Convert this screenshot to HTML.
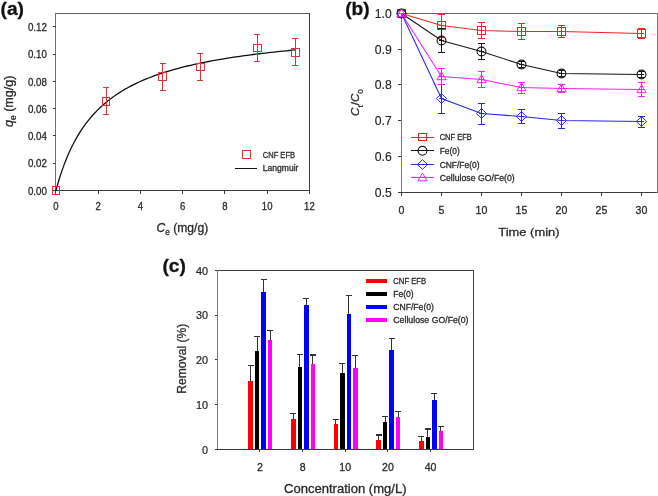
<!DOCTYPE html>
<html><head><meta charset="utf-8"><style>
html,body{margin:0;padding:0;background:#fff;}
svg{display:block;font-family:"Liberation Sans", sans-serif;will-change:transform;}
line,rect{shape-rendering:crispEdges;}
.ce{shape-rendering:crispEdges;}
</style></head><body>
<svg width="658" height="496" viewBox="0 0 658 496">
<rect width="658" height="496" fill="#fff"/>
<text x="0.50" y="15.20" font-size="19.2" stroke="#111" stroke-width="0.3" font-weight="bold" fill="#111" >(a)</text>
<line x1="55.90" y1="13.20" x2="309.40" y2="13.20" stroke="#5e5e5e" stroke-width="1.3" />
<line x1="309.40" y1="13.20" x2="309.40" y2="190.50" stroke="#3c3c3c" stroke-width="1.2" />
<line x1="55.90" y1="13.20" x2="55.90" y2="191.00" stroke="#707070" stroke-width="1.0" />
<line x1="55.90" y1="190.50" x2="309.40" y2="190.50" stroke="#3c3c3c" stroke-width="1.2" />
<line x1="52.90" y1="190.50" x2="55.90" y2="190.50" stroke="#3c3c3c" stroke-width="1.0" />
<text x="46.90" y="194.60" font-size="10.5" stroke="#2b2b2b" stroke-width="0.3" text-anchor="end" textLength="19.00" lengthAdjust="spacingAndGlyphs" fill="#2b2b2b" >0.00</text>
<line x1="52.90" y1="163.23" x2="55.90" y2="163.23" stroke="#3c3c3c" stroke-width="1.0" />
<text x="46.90" y="167.33" font-size="10.5" stroke="#2b2b2b" stroke-width="0.3" text-anchor="end" textLength="19.00" lengthAdjust="spacingAndGlyphs" fill="#2b2b2b" >0.02</text>
<line x1="52.90" y1="135.97" x2="55.90" y2="135.97" stroke="#3c3c3c" stroke-width="1.0" />
<text x="46.90" y="140.07" font-size="10.5" stroke="#2b2b2b" stroke-width="0.3" text-anchor="end" textLength="19.00" lengthAdjust="spacingAndGlyphs" fill="#2b2b2b" >0.04</text>
<line x1="52.90" y1="108.70" x2="55.90" y2="108.70" stroke="#3c3c3c" stroke-width="1.0" />
<text x="46.90" y="112.80" font-size="10.5" stroke="#2b2b2b" stroke-width="0.3" text-anchor="end" textLength="19.00" lengthAdjust="spacingAndGlyphs" fill="#2b2b2b" >0.06</text>
<line x1="52.90" y1="81.43" x2="55.90" y2="81.43" stroke="#3c3c3c" stroke-width="1.0" />
<text x="46.90" y="85.53" font-size="10.5" stroke="#2b2b2b" stroke-width="0.3" text-anchor="end" textLength="19.00" lengthAdjust="spacingAndGlyphs" fill="#2b2b2b" >0.08</text>
<line x1="52.90" y1="54.17" x2="55.90" y2="54.17" stroke="#3c3c3c" stroke-width="1.0" />
<text x="46.90" y="58.27" font-size="10.5" stroke="#2b2b2b" stroke-width="0.3" text-anchor="end" textLength="19.00" lengthAdjust="spacingAndGlyphs" fill="#2b2b2b" >0.10</text>
<line x1="52.90" y1="26.90" x2="55.90" y2="26.90" stroke="#3c3c3c" stroke-width="1.0" />
<text x="46.90" y="31.00" font-size="10.5" stroke="#2b2b2b" stroke-width="0.3" text-anchor="end" textLength="19.00" lengthAdjust="spacingAndGlyphs" fill="#2b2b2b" >0.12</text>
<line x1="55.90" y1="190.50" x2="55.90" y2="193.50" stroke="#3c3c3c" stroke-width="1.0" />
<text x="55.90" y="209.60" font-size="10.3" stroke="#2b2b2b" stroke-width="0.3" text-anchor="middle" textLength="5.30" lengthAdjust="spacingAndGlyphs" fill="#2b2b2b" >0</text>
<line x1="98.15" y1="190.50" x2="98.15" y2="193.50" stroke="#3c3c3c" stroke-width="1.0" />
<text x="98.15" y="209.60" font-size="10.3" stroke="#2b2b2b" stroke-width="0.3" text-anchor="middle" textLength="5.30" lengthAdjust="spacingAndGlyphs" fill="#2b2b2b" >2</text>
<line x1="140.40" y1="190.50" x2="140.40" y2="193.50" stroke="#3c3c3c" stroke-width="1.0" />
<text x="140.40" y="209.60" font-size="10.3" stroke="#2b2b2b" stroke-width="0.3" text-anchor="middle" textLength="5.30" lengthAdjust="spacingAndGlyphs" fill="#2b2b2b" >4</text>
<line x1="182.65" y1="190.50" x2="182.65" y2="193.50" stroke="#3c3c3c" stroke-width="1.0" />
<text x="182.65" y="209.60" font-size="10.3" stroke="#2b2b2b" stroke-width="0.3" text-anchor="middle" textLength="5.30" lengthAdjust="spacingAndGlyphs" fill="#2b2b2b" >6</text>
<line x1="224.90" y1="190.50" x2="224.90" y2="193.50" stroke="#3c3c3c" stroke-width="1.0" />
<text x="224.90" y="209.60" font-size="10.3" stroke="#2b2b2b" stroke-width="0.3" text-anchor="middle" textLength="5.30" lengthAdjust="spacingAndGlyphs" fill="#2b2b2b" >8</text>
<line x1="267.15" y1="190.50" x2="267.15" y2="193.50" stroke="#3c3c3c" stroke-width="1.0" />
<text x="267.15" y="209.60" font-size="10.3" stroke="#2b2b2b" stroke-width="0.3" text-anchor="middle" textLength="10.60" lengthAdjust="spacingAndGlyphs" fill="#2b2b2b" >10</text>
<line x1="309.40" y1="190.50" x2="309.40" y2="193.50" stroke="#3c3c3c" stroke-width="1.0" />
<text x="309.40" y="209.60" font-size="10.3" stroke="#2b2b2b" stroke-width="0.3" text-anchor="middle" textLength="10.60" lengthAdjust="spacingAndGlyphs" fill="#2b2b2b" >12</text>
<path d="M55.90,190.50 L58.89,180.05 L61.88,170.84 L64.88,162.65 L67.87,155.32 L70.86,148.73 L73.85,142.77 L76.84,137.34 L79.83,132.40 L82.83,127.86 L85.82,123.69 L88.81,119.83 L91.80,116.27 L94.79,112.96 L97.79,109.87 L100.78,107.00 L103.77,104.30 L106.76,101.78 L109.75,99.41 L112.74,97.18 L115.74,95.08 L118.73,93.09 L121.72,91.21 L124.71,89.43 L127.70,87.74 L130.70,86.14 L133.69,84.62 L136.68,83.16 L139.67,81.78 L142.66,80.45 L145.65,79.19 L148.65,77.98 L151.64,76.83 L154.63,75.72 L157.62,74.65 L160.61,73.63 L163.61,72.65 L166.60,71.71 L169.59,70.80 L172.58,69.93 L175.57,69.08 L178.56,68.27 L181.56,67.49 L184.55,66.73 L187.54,66.00 L190.53,65.29 L193.52,64.61 L196.52,63.95 L199.51,63.31 L202.50,62.69 L205.49,62.09 L208.48,61.51 L211.48,60.94 L214.47,60.39 L217.46,59.86 L220.45,59.34 L223.44,58.84 L226.43,58.35 L229.43,57.87 L232.42,57.41 L235.41,56.96 L238.40,56.52 L241.39,56.09 L244.39,55.68 L247.38,55.27 L250.37,54.87 L253.36,54.49 L256.35,54.11 L259.34,53.75 L262.34,53.39 L265.33,53.04 L268.32,52.69 L271.31,52.36 L274.30,52.03 L277.30,51.71 L280.29,51.40 L283.28,51.10 L286.27,50.80 L289.26,50.51 L292.25,50.22 L295.25,49.94" stroke="#111" stroke-width="1.3" fill="none" />
<rect x="52.00" y="186.70" width="7.60" height="7.60" fill="none" stroke="#d9343a" stroke-width="1.0"/>
<line x1="106.00" y1="87.95" x2="106.00" y2="114.85" stroke="#d9343a" stroke-width="1.0" />
<line x1="103.00" y1="87.95" x2="109.00" y2="87.95" stroke="#d9343a" stroke-width="1.0" />
<line x1="103.00" y1="114.85" x2="109.00" y2="114.85" stroke="#d9343a" stroke-width="1.0" />
<rect x="102.20" y="97.60" width="7.60" height="7.60" fill="none" stroke="#d9343a" stroke-width="1.0"/>
<line x1="162.50" y1="63.10" x2="162.50" y2="90.10" stroke="#d9343a" stroke-width="1.0" />
<line x1="159.50" y1="63.10" x2="165.50" y2="63.10" stroke="#d9343a" stroke-width="1.0" />
<line x1="159.50" y1="90.10" x2="165.50" y2="90.10" stroke="#d9343a" stroke-width="1.0" />
<rect x="158.70" y="72.80" width="7.60" height="7.60" fill="none" stroke="#d9343a" stroke-width="1.0"/>
<line x1="200.40" y1="53.20" x2="200.40" y2="80.40" stroke="#d9343a" stroke-width="1.0" />
<line x1="197.40" y1="53.20" x2="203.40" y2="53.20" stroke="#d9343a" stroke-width="1.0" />
<line x1="197.40" y1="80.40" x2="203.40" y2="80.40" stroke="#d9343a" stroke-width="1.0" />
<rect x="196.60" y="63.00" width="7.60" height="7.60" fill="none" stroke="#d9343a" stroke-width="1.0"/>
<line x1="257.30" y1="34.25" x2="257.30" y2="61.55" stroke="#d9343a" stroke-width="1.0" />
<line x1="254.30" y1="34.25" x2="260.30" y2="34.25" stroke="#d9343a" stroke-width="1.0" />
<line x1="254.30" y1="61.55" x2="260.30" y2="61.55" stroke="#d9343a" stroke-width="1.0" />
<rect x="253.50" y="44.10" width="7.60" height="7.60" fill="none" stroke="#d9343a" stroke-width="1.0"/>
<line x1="295.30" y1="38.70" x2="295.30" y2="65.70" stroke="#d9343a" stroke-width="1.0" />
<line x1="292.30" y1="38.70" x2="298.30" y2="38.70" stroke="#d9343a" stroke-width="1.0" />
<line x1="292.30" y1="65.70" x2="298.30" y2="65.70" stroke="#d9343a" stroke-width="1.0" />
<rect x="291.50" y="48.40" width="7.60" height="7.60" fill="none" stroke="#d9343a" stroke-width="1.0"/>
<rect x="242.20" y="150.90" width="7.80" height="7.80" fill="none" stroke="#d9343a" stroke-width="1.0"/>
<text x="262.80" y="157.60" font-size="8.6" stroke="#2b2b2b" stroke-width="0.3" textLength="32.20" lengthAdjust="spacingAndGlyphs" fill="#2b2b2b" >CNF EFB</text>
<line x1="234.60" y1="168.40" x2="256.80" y2="168.40" stroke="#111" stroke-width="1.2" />
<text x="262.80" y="170.60" font-size="8.6" stroke="#2b2b2b" stroke-width="0.3" textLength="35.60" lengthAdjust="spacingAndGlyphs" fill="#2b2b2b" >Langmuir</text>
<text x="156.40" y="232.40" font-size="12.4" stroke="#2b2b2b" stroke-width="0.3" textLength="51.90" lengthAdjust="spacingAndGlyphs" fill="#2b2b2b" ><tspan font-style="italic">C</tspan><tspan font-size="8.5" dy="2.8">e</tspan><tspan dy="-2.8"> (mg/g)</tspan></text>
<text x="13.40" y="127.00" font-size="12.8" stroke="#2b2b2b" stroke-width="0.3" textLength="51.50" lengthAdjust="spacingAndGlyphs" fill="#2b2b2b" transform="rotate(-90 13.40 127.00)" ><tspan font-style="italic">q</tspan><tspan font-size="8.5" dy="3">e</tspan><tspan dy="-3"> (mg/g)</tspan></text>
<text x="345.20" y="15.40" font-size="19.2" stroke="#111" stroke-width="0.3" font-weight="bold" fill="#111" >(b)</text>
<line x1="401.30" y1="13.30" x2="657.00" y2="13.30" stroke="#666" stroke-width="1.0" />
<line x1="657.00" y1="13.30" x2="657.00" y2="192.50" stroke="#777" stroke-width="1.0" />
<line x1="401.30" y1="13.30" x2="401.30" y2="192.50" stroke="#7a7a7a" stroke-width="1.2" />
<line x1="401.30" y1="192.50" x2="657.00" y2="192.50" stroke="#3c3c3c" stroke-width="1.2" />
<line x1="398.30" y1="192.50" x2="401.30" y2="192.50" stroke="#3c3c3c" stroke-width="1.0" />
<text x="391.80" y="196.90" font-size="12.2" stroke="#222" stroke-width="0.12" text-anchor="end" fill="#222" >0.5</text>
<line x1="398.30" y1="156.66" x2="401.30" y2="156.66" stroke="#3c3c3c" stroke-width="1.0" />
<text x="391.80" y="161.06" font-size="12.2" stroke="#222" stroke-width="0.12" text-anchor="end" fill="#222" >0.6</text>
<line x1="398.30" y1="120.82" x2="401.30" y2="120.82" stroke="#3c3c3c" stroke-width="1.0" />
<text x="391.80" y="125.22" font-size="12.2" stroke="#222" stroke-width="0.12" text-anchor="end" fill="#222" >0.7</text>
<line x1="398.30" y1="84.98" x2="401.30" y2="84.98" stroke="#3c3c3c" stroke-width="1.0" />
<text x="391.80" y="89.38" font-size="12.2" stroke="#222" stroke-width="0.12" text-anchor="end" fill="#222" >0.8</text>
<line x1="398.30" y1="49.14" x2="401.30" y2="49.14" stroke="#3c3c3c" stroke-width="1.0" />
<text x="391.80" y="53.54" font-size="12.2" stroke="#222" stroke-width="0.12" text-anchor="end" fill="#222" >0.9</text>
<line x1="398.30" y1="13.30" x2="401.30" y2="13.30" stroke="#3c3c3c" stroke-width="1.0" />
<text x="391.80" y="17.70" font-size="12.2" stroke="#222" stroke-width="0.12" text-anchor="end" fill="#222" >1.0</text>
<line x1="401.50" y1="192.50" x2="401.50" y2="195.50" stroke="#3c3c3c" stroke-width="1.0" />
<text x="401.50" y="213.90" font-size="11.0" stroke="#2b2b2b" stroke-width="0.3" text-anchor="middle" textLength="5.90" lengthAdjust="spacingAndGlyphs" fill="#2b2b2b" >0</text>
<line x1="441.50" y1="192.50" x2="441.50" y2="195.50" stroke="#3c3c3c" stroke-width="1.0" />
<text x="441.50" y="213.90" font-size="11.0" stroke="#2b2b2b" stroke-width="0.3" text-anchor="middle" textLength="5.90" lengthAdjust="spacingAndGlyphs" fill="#2b2b2b" >5</text>
<line x1="481.50" y1="192.50" x2="481.50" y2="195.50" stroke="#3c3c3c" stroke-width="1.0" />
<text x="481.50" y="213.90" font-size="11.0" stroke="#2b2b2b" stroke-width="0.3" text-anchor="middle" textLength="11.80" lengthAdjust="spacingAndGlyphs" fill="#2b2b2b" >10</text>
<line x1="521.50" y1="192.50" x2="521.50" y2="195.50" stroke="#3c3c3c" stroke-width="1.0" />
<text x="521.50" y="213.90" font-size="11.0" stroke="#2b2b2b" stroke-width="0.3" text-anchor="middle" textLength="11.80" lengthAdjust="spacingAndGlyphs" fill="#2b2b2b" >15</text>
<line x1="561.50" y1="192.50" x2="561.50" y2="195.50" stroke="#3c3c3c" stroke-width="1.0" />
<text x="561.50" y="213.90" font-size="11.0" stroke="#2b2b2b" stroke-width="0.3" text-anchor="middle" textLength="11.80" lengthAdjust="spacingAndGlyphs" fill="#2b2b2b" >20</text>
<line x1="601.50" y1="192.50" x2="601.50" y2="195.50" stroke="#3c3c3c" stroke-width="1.0" />
<text x="601.50" y="213.90" font-size="11.0" stroke="#2b2b2b" stroke-width="0.3" text-anchor="middle" textLength="11.80" lengthAdjust="spacingAndGlyphs" fill="#2b2b2b" >25</text>
<line x1="641.50" y1="192.50" x2="641.50" y2="195.50" stroke="#3c3c3c" stroke-width="1.0" />
<text x="641.50" y="213.90" font-size="11.0" stroke="#2b2b2b" stroke-width="0.3" text-anchor="middle" textLength="11.80" lengthAdjust="spacingAndGlyphs" fill="#2b2b2b" >30</text>
<text x="498.30" y="236.10" font-size="11.8" stroke="#2b2b2b" stroke-width="0.3" textLength="61.20" lengthAdjust="spacingAndGlyphs" fill="#2b2b2b" >Time (min)</text>
<text x="359.20" y="116.00" font-size="11.6" stroke="#2b2b2b" stroke-width="0.3" textLength="26.80" lengthAdjust="spacingAndGlyphs" fill="#2b2b2b" transform="rotate(-90 359.20 116.00)" ><tspan font-style="italic">C</tspan><tspan font-size="8" dy="3.4">t</tspan><tspan dy="-3.4">/</tspan><tspan font-style="italic">C</tspan><tspan font-size="8" dy="3.4">0</tspan></text>
<path d="M401.50,13.50 L441.50,25.50 L481.50,30.50 L521.50,31.50 L561.50,31.50 L641.50,33.50" stroke="#ee2424" stroke-width="1.05" fill="none" />
<path d="M401.50,13.50 L441.50,40.50 L481.50,51.50 L521.50,64.50 L561.50,73.50 L641.50,74.50" stroke="#161616" stroke-width="1.05" fill="none" />
<path d="M401.50,13.50 L441.50,98.50 L481.50,113.50 L521.50,116.50 L561.50,120.50 L641.50,121.50" stroke="#2a2ae0" stroke-width="1.05" fill="none" />
<path d="M401.50,13.50 L441.50,76.50 L481.50,79.50 L521.50,87.50 L561.50,88.50 L641.50,89.50" stroke="#f020f0" stroke-width="1.05" fill="none" />
<line x1="399.00" y1="13.50" x2="404.00" y2="13.50" stroke="#ee2424" stroke-width="1.0" />
<rect x="397.70" y="9.70" width="7.60" height="7.60" fill="none" stroke="#ee2424" stroke-width="1.0"/>
<line x1="441.50" y1="14.00" x2="441.50" y2="37.00" stroke="#ee2424" stroke-width="1.0" />
<line x1="438.20" y1="14.00" x2="444.80" y2="14.00" stroke="#ee2424" stroke-width="1.0" />
<line x1="438.20" y1="37.00" x2="444.80" y2="37.00" stroke="#ee2424" stroke-width="1.0" />
<line x1="439.00" y1="25.50" x2="444.00" y2="25.50" stroke="#ee2424" stroke-width="1.0" />
<rect x="437.70" y="21.70" width="7.60" height="7.60" fill="none" stroke="#ee2424" stroke-width="1.0"/>
<line x1="481.50" y1="22.30" x2="481.50" y2="38.70" stroke="#ee2424" stroke-width="1.0" />
<line x1="478.20" y1="22.30" x2="484.80" y2="22.30" stroke="#ee2424" stroke-width="1.0" />
<line x1="478.20" y1="38.70" x2="484.80" y2="38.70" stroke="#ee2424" stroke-width="1.0" />
<line x1="479.00" y1="30.50" x2="484.00" y2="30.50" stroke="#ee2424" stroke-width="1.0" />
<rect x="477.70" y="26.70" width="7.60" height="7.60" fill="none" stroke="#ee2424" stroke-width="1.0"/>
<line x1="521.50" y1="23.50" x2="521.50" y2="39.50" stroke="#ee2424" stroke-width="1.0" />
<line x1="518.20" y1="23.50" x2="524.80" y2="23.50" stroke="#ee2424" stroke-width="1.0" />
<line x1="518.20" y1="39.50" x2="524.80" y2="39.50" stroke="#ee2424" stroke-width="1.0" />
<line x1="519.00" y1="31.50" x2="524.00" y2="31.50" stroke="#ee2424" stroke-width="1.0" />
<rect x="517.70" y="27.70" width="7.60" height="7.60" fill="none" stroke="#ee2424" stroke-width="1.0"/>
<line x1="561.50" y1="25.50" x2="561.50" y2="37.50" stroke="#ee2424" stroke-width="1.0" />
<line x1="558.20" y1="25.50" x2="564.80" y2="25.50" stroke="#ee2424" stroke-width="1.0" />
<line x1="558.20" y1="37.50" x2="564.80" y2="37.50" stroke="#ee2424" stroke-width="1.0" />
<line x1="559.00" y1="31.50" x2="564.00" y2="31.50" stroke="#ee2424" stroke-width="1.0" />
<rect x="557.70" y="27.70" width="7.60" height="7.60" fill="none" stroke="#ee2424" stroke-width="1.0"/>
<line x1="641.50" y1="28.50" x2="641.50" y2="38.50" stroke="#ee2424" stroke-width="1.0" />
<line x1="638.20" y1="28.50" x2="644.80" y2="28.50" stroke="#ee2424" stroke-width="1.0" />
<line x1="638.20" y1="38.50" x2="644.80" y2="38.50" stroke="#ee2424" stroke-width="1.0" />
<line x1="639.00" y1="33.50" x2="644.00" y2="33.50" stroke="#ee2424" stroke-width="1.0" />
<rect x="637.70" y="29.70" width="7.60" height="7.60" fill="none" stroke="#ee2424" stroke-width="1.0"/>
<line x1="399.00" y1="13.50" x2="404.00" y2="13.50" stroke="#161616" stroke-width="1.0" />
<circle cx="401.50" cy="13.50" r="4.4" fill="none" stroke="#161616" stroke-width="1.1"/>
<line x1="441.50" y1="28.50" x2="441.50" y2="52.50" stroke="#161616" stroke-width="1.0" />
<line x1="438.20" y1="28.50" x2="444.80" y2="28.50" stroke="#161616" stroke-width="1.0" />
<line x1="438.20" y1="52.50" x2="444.80" y2="52.50" stroke="#161616" stroke-width="1.0" />
<line x1="439.00" y1="40.50" x2="444.00" y2="40.50" stroke="#161616" stroke-width="1.0" />
<circle cx="441.50" cy="40.50" r="4.4" fill="none" stroke="#161616" stroke-width="1.1"/>
<line x1="481.50" y1="43.80" x2="481.50" y2="59.20" stroke="#161616" stroke-width="1.0" />
<line x1="478.20" y1="43.80" x2="484.80" y2="43.80" stroke="#161616" stroke-width="1.0" />
<line x1="478.20" y1="59.20" x2="484.80" y2="59.20" stroke="#161616" stroke-width="1.0" />
<line x1="479.00" y1="51.50" x2="484.00" y2="51.50" stroke="#161616" stroke-width="1.0" />
<circle cx="481.50" cy="51.50" r="4.4" fill="none" stroke="#161616" stroke-width="1.1"/>
<line x1="521.50" y1="61.50" x2="521.50" y2="67.50" stroke="#161616" stroke-width="1.0" />
<line x1="518.20" y1="61.50" x2="524.80" y2="61.50" stroke="#161616" stroke-width="1.0" />
<line x1="518.20" y1="67.50" x2="524.80" y2="67.50" stroke="#161616" stroke-width="1.0" />
<line x1="519.00" y1="64.50" x2="524.00" y2="64.50" stroke="#161616" stroke-width="1.0" />
<circle cx="521.50" cy="64.50" r="4.4" fill="none" stroke="#161616" stroke-width="1.1"/>
<line x1="561.50" y1="70.50" x2="561.50" y2="76.50" stroke="#161616" stroke-width="1.0" />
<line x1="558.20" y1="70.50" x2="564.80" y2="70.50" stroke="#161616" stroke-width="1.0" />
<line x1="558.20" y1="76.50" x2="564.80" y2="76.50" stroke="#161616" stroke-width="1.0" />
<line x1="559.00" y1="73.50" x2="564.00" y2="73.50" stroke="#161616" stroke-width="1.0" />
<circle cx="561.50" cy="73.50" r="4.4" fill="none" stroke="#161616" stroke-width="1.1"/>
<line x1="641.50" y1="71.50" x2="641.50" y2="77.50" stroke="#161616" stroke-width="1.0" />
<line x1="638.20" y1="71.50" x2="644.80" y2="71.50" stroke="#161616" stroke-width="1.0" />
<line x1="638.20" y1="77.50" x2="644.80" y2="77.50" stroke="#161616" stroke-width="1.0" />
<line x1="639.00" y1="74.50" x2="644.00" y2="74.50" stroke="#161616" stroke-width="1.0" />
<circle cx="641.50" cy="74.50" r="4.4" fill="none" stroke="#161616" stroke-width="1.1"/>
<line x1="399.00" y1="13.50" x2="404.00" y2="13.50" stroke="#2a2ae0" stroke-width="1.0" />
<path d="M396.30,13.50 L401.50,8.70 L406.70,13.50 L401.50,18.30 Z" stroke="#2a2ae0" stroke-width="1.0" fill="none" />
<line x1="441.50" y1="84.00" x2="441.50" y2="113.00" stroke="#2a2ae0" stroke-width="1.0" />
<line x1="438.20" y1="84.00" x2="444.80" y2="84.00" stroke="#2a2ae0" stroke-width="1.0" />
<line x1="438.20" y1="113.00" x2="444.80" y2="113.00" stroke="#2a2ae0" stroke-width="1.0" />
<line x1="439.00" y1="98.50" x2="444.00" y2="98.50" stroke="#2a2ae0" stroke-width="1.0" />
<path d="M436.30,98.50 L441.50,93.70 L446.70,98.50 L441.50,103.30 Z" stroke="#2a2ae0" stroke-width="1.0" fill="none" />
<line x1="481.50" y1="103.00" x2="481.50" y2="124.00" stroke="#2a2ae0" stroke-width="1.0" />
<line x1="478.20" y1="103.00" x2="484.80" y2="103.00" stroke="#2a2ae0" stroke-width="1.0" />
<line x1="478.20" y1="124.00" x2="484.80" y2="124.00" stroke="#2a2ae0" stroke-width="1.0" />
<line x1="479.00" y1="113.50" x2="484.00" y2="113.50" stroke="#2a2ae0" stroke-width="1.0" />
<path d="M476.30,113.50 L481.50,108.70 L486.70,113.50 L481.50,118.30 Z" stroke="#2a2ae0" stroke-width="1.0" fill="none" />
<line x1="521.50" y1="109.50" x2="521.50" y2="123.50" stroke="#2a2ae0" stroke-width="1.0" />
<line x1="518.20" y1="109.50" x2="524.80" y2="109.50" stroke="#2a2ae0" stroke-width="1.0" />
<line x1="518.20" y1="123.50" x2="524.80" y2="123.50" stroke="#2a2ae0" stroke-width="1.0" />
<line x1="519.00" y1="116.50" x2="524.00" y2="116.50" stroke="#2a2ae0" stroke-width="1.0" />
<path d="M516.30,116.50 L521.50,111.70 L526.70,116.50 L521.50,121.30 Z" stroke="#2a2ae0" stroke-width="1.0" fill="none" />
<line x1="561.50" y1="113.00" x2="561.50" y2="128.00" stroke="#2a2ae0" stroke-width="1.0" />
<line x1="558.20" y1="113.00" x2="564.80" y2="113.00" stroke="#2a2ae0" stroke-width="1.0" />
<line x1="558.20" y1="128.00" x2="564.80" y2="128.00" stroke="#2a2ae0" stroke-width="1.0" />
<line x1="559.00" y1="120.50" x2="564.00" y2="120.50" stroke="#2a2ae0" stroke-width="1.0" />
<path d="M556.30,120.50 L561.50,115.70 L566.70,120.50 L561.50,125.30 Z" stroke="#2a2ae0" stroke-width="1.0" fill="none" />
<line x1="641.50" y1="116.00" x2="641.50" y2="127.00" stroke="#2a2ae0" stroke-width="1.0" />
<line x1="638.20" y1="116.00" x2="644.80" y2="116.00" stroke="#2a2ae0" stroke-width="1.0" />
<line x1="638.20" y1="127.00" x2="644.80" y2="127.00" stroke="#2a2ae0" stroke-width="1.0" />
<line x1="639.00" y1="121.50" x2="644.00" y2="121.50" stroke="#2a2ae0" stroke-width="1.0" />
<path d="M636.30,121.50 L641.50,116.70 L646.70,121.50 L641.50,126.30 Z" stroke="#2a2ae0" stroke-width="1.0" fill="none" />
<line x1="399.00" y1="13.50" x2="404.00" y2="13.50" stroke="#f020f0" stroke-width="1.0" />
<path d="M396.90,16.70 L401.50,8.90 L406.10,16.70 Z" stroke="#f020f0" stroke-width="1.0" fill="none" />
<line x1="441.50" y1="68.90" x2="441.50" y2="84.10" stroke="#f020f0" stroke-width="1.0" />
<line x1="438.20" y1="68.90" x2="444.80" y2="68.90" stroke="#f020f0" stroke-width="1.0" />
<line x1="438.20" y1="84.10" x2="444.80" y2="84.10" stroke="#f020f0" stroke-width="1.0" />
<line x1="439.00" y1="76.50" x2="444.00" y2="76.50" stroke="#f020f0" stroke-width="1.0" />
<path d="M436.90,79.70 L441.50,71.90 L446.10,79.70 Z" stroke="#f020f0" stroke-width="1.0" fill="none" />
<line x1="481.50" y1="71.30" x2="481.50" y2="87.70" stroke="#f020f0" stroke-width="1.0" />
<line x1="478.20" y1="71.30" x2="484.80" y2="71.30" stroke="#f020f0" stroke-width="1.0" />
<line x1="478.20" y1="87.70" x2="484.80" y2="87.70" stroke="#f020f0" stroke-width="1.0" />
<line x1="479.00" y1="79.50" x2="484.00" y2="79.50" stroke="#f020f0" stroke-width="1.0" />
<path d="M476.90,82.70 L481.50,74.90 L486.10,82.70 Z" stroke="#f020f0" stroke-width="1.0" fill="none" />
<line x1="521.50" y1="82.00" x2="521.50" y2="93.00" stroke="#f020f0" stroke-width="1.0" />
<line x1="518.20" y1="82.00" x2="524.80" y2="82.00" stroke="#f020f0" stroke-width="1.0" />
<line x1="518.20" y1="93.00" x2="524.80" y2="93.00" stroke="#f020f0" stroke-width="1.0" />
<line x1="519.00" y1="87.50" x2="524.00" y2="87.50" stroke="#f020f0" stroke-width="1.0" />
<path d="M516.90,90.70 L521.50,82.90 L526.10,90.70 Z" stroke="#f020f0" stroke-width="1.0" fill="none" />
<line x1="561.50" y1="84.30" x2="561.50" y2="92.70" stroke="#f020f0" stroke-width="1.0" />
<line x1="558.20" y1="84.30" x2="564.80" y2="84.30" stroke="#f020f0" stroke-width="1.0" />
<line x1="558.20" y1="92.70" x2="564.80" y2="92.70" stroke="#f020f0" stroke-width="1.0" />
<line x1="559.00" y1="88.50" x2="564.00" y2="88.50" stroke="#f020f0" stroke-width="1.0" />
<path d="M556.90,91.70 L561.50,83.90 L566.10,91.70 Z" stroke="#f020f0" stroke-width="1.0" fill="none" />
<line x1="641.50" y1="82.30" x2="641.50" y2="96.70" stroke="#f020f0" stroke-width="1.0" />
<line x1="638.20" y1="82.30" x2="644.80" y2="82.30" stroke="#f020f0" stroke-width="1.0" />
<line x1="638.20" y1="96.70" x2="644.80" y2="96.70" stroke="#f020f0" stroke-width="1.0" />
<line x1="639.00" y1="89.50" x2="644.00" y2="89.50" stroke="#f020f0" stroke-width="1.0" />
<path d="M636.90,92.70 L641.50,84.90 L646.10,92.70 Z" stroke="#f020f0" stroke-width="1.0" fill="none" />
<line x1="411.10" y1="137.10" x2="433.90" y2="137.10" stroke="#ee2424" stroke-width="1.0" />
<rect x="418.70" y="133.30" width="7.60" height="7.60" fill="none" stroke="#ee2424" stroke-width="1.0"/>
<text x="439.70" y="140.40" font-size="8.6" stroke="#2b2b2b" stroke-width="0.3" textLength="32.20" lengthAdjust="spacingAndGlyphs" fill="#2b2b2b" >CNF EFB</text>
<line x1="411.10" y1="150.80" x2="433.90" y2="150.80" stroke="#161616" stroke-width="1.0" />
<circle cx="422.50" cy="150.80" r="4.4" fill="none" stroke="#161616" stroke-width="1.1"/>
<text x="439.70" y="154.10" font-size="8.6" stroke="#2b2b2b" stroke-width="0.3" textLength="20.00" lengthAdjust="spacingAndGlyphs" fill="#2b2b2b" >Fe(0)</text>
<line x1="411.10" y1="164.50" x2="433.90" y2="164.50" stroke="#2a2ae0" stroke-width="1.0" />
<path d="M417.30,164.50 L422.50,159.70 L427.70,164.50 L422.50,169.30 Z" stroke="#2a2ae0" stroke-width="1.0" fill="none" />
<text x="439.70" y="167.80" font-size="8.6" stroke="#2b2b2b" stroke-width="0.3" textLength="39.80" lengthAdjust="spacingAndGlyphs" fill="#2b2b2b" >CNF/Fe(0)</text>
<line x1="411.10" y1="177.60" x2="433.90" y2="177.60" stroke="#f020f0" stroke-width="1.0" />
<path d="M417.90,180.80 L422.50,173.00 L427.10,180.80 Z" stroke="#f020f0" stroke-width="1.0" fill="none" />
<text x="439.70" y="180.90" font-size="8.6" stroke="#2b2b2b" stroke-width="0.3" textLength="75.00" lengthAdjust="spacingAndGlyphs" fill="#2b2b2b" >Cellulose GO/Fe(0)</text>
<text x="162.40" y="272.00" font-size="19.2" stroke="#111" stroke-width="0.3" font-weight="bold" fill="#111" >(c)</text>
<line x1="217.40" y1="270.40" x2="473.50" y2="270.40" stroke="#3c3c3c" stroke-width="1.2" />
<line x1="473.50" y1="270.40" x2="473.50" y2="449.20" stroke="#3c3c3c" stroke-width="1.2" />
<line x1="217.40" y1="270.40" x2="217.40" y2="449.20" stroke="#7a7a7a" stroke-width="1.2" />
<line x1="217.40" y1="449.20" x2="473.50" y2="449.20" stroke="#3c3c3c" stroke-width="1.2" />
<line x1="214.90" y1="449.20" x2="217.40" y2="449.20" stroke="#3c3c3c" stroke-width="1.0" />
<text x="208.10" y="453.50" font-size="11.8" stroke="#222" stroke-width="0.2" text-anchor="end" textLength="6.05" lengthAdjust="spacingAndGlyphs" fill="#222" >0</text>
<line x1="214.90" y1="404.50" x2="217.40" y2="404.50" stroke="#3c3c3c" stroke-width="1.0" />
<text x="208.10" y="408.80" font-size="11.8" stroke="#222" stroke-width="0.2" text-anchor="end" textLength="12.10" lengthAdjust="spacingAndGlyphs" fill="#222" >10</text>
<line x1="214.90" y1="359.80" x2="217.40" y2="359.80" stroke="#3c3c3c" stroke-width="1.0" />
<text x="208.10" y="364.10" font-size="11.8" stroke="#222" stroke-width="0.2" text-anchor="end" textLength="12.10" lengthAdjust="spacingAndGlyphs" fill="#222" >20</text>
<line x1="214.90" y1="315.10" x2="217.40" y2="315.10" stroke="#3c3c3c" stroke-width="1.0" />
<text x="208.10" y="319.40" font-size="11.8" stroke="#222" stroke-width="0.2" text-anchor="end" textLength="12.10" lengthAdjust="spacingAndGlyphs" fill="#222" >30</text>
<line x1="214.90" y1="270.40" x2="217.40" y2="270.40" stroke="#3c3c3c" stroke-width="1.0" />
<text x="208.10" y="274.70" font-size="11.8" stroke="#222" stroke-width="0.2" text-anchor="end" textLength="12.10" lengthAdjust="spacingAndGlyphs" fill="#222" >40</text>
<line x1="259.90" y1="449.20" x2="259.90" y2="451.70" stroke="#3c3c3c" stroke-width="1.0" />
<text x="259.90" y="470.90" font-size="11.0" stroke="#2b2b2b" stroke-width="0.3" text-anchor="middle" textLength="5.90" lengthAdjust="spacingAndGlyphs" fill="#2b2b2b" >2</text>
<line x1="302.60" y1="449.20" x2="302.60" y2="451.70" stroke="#3c3c3c" stroke-width="1.0" />
<text x="302.60" y="470.90" font-size="11.0" stroke="#2b2b2b" stroke-width="0.3" text-anchor="middle" textLength="5.90" lengthAdjust="spacingAndGlyphs" fill="#2b2b2b" >8</text>
<line x1="345.20" y1="449.20" x2="345.20" y2="451.70" stroke="#3c3c3c" stroke-width="1.0" />
<text x="345.20" y="470.90" font-size="11.0" stroke="#2b2b2b" stroke-width="0.3" text-anchor="middle" textLength="11.80" lengthAdjust="spacingAndGlyphs" fill="#2b2b2b" >10</text>
<line x1="387.90" y1="449.20" x2="387.90" y2="451.70" stroke="#3c3c3c" stroke-width="1.0" />
<text x="387.90" y="470.90" font-size="11.0" stroke="#2b2b2b" stroke-width="0.3" text-anchor="middle" textLength="11.80" lengthAdjust="spacingAndGlyphs" fill="#2b2b2b" >20</text>
<line x1="430.60" y1="449.20" x2="430.60" y2="451.70" stroke="#3c3c3c" stroke-width="1.0" />
<text x="430.60" y="470.90" font-size="11.0" stroke="#2b2b2b" stroke-width="0.3" text-anchor="middle" textLength="11.80" lengthAdjust="spacingAndGlyphs" fill="#2b2b2b" >40</text>
<rect x="248.30" y="380.50" width="4.50" height="68.70" fill="#ff0000"/>
<line x1="250.55" y1="365.50" x2="250.55" y2="380.50" stroke="#333" stroke-width="1.0" />
<line x1="247.55" y1="365.50" x2="253.55" y2="365.50" stroke="#333" stroke-width="1.2" />
<rect x="254.80" y="350.80" width="4.50" height="98.40" fill="#000000"/>
<line x1="257.05" y1="336.70" x2="257.05" y2="350.80" stroke="#333" stroke-width="1.0" />
<line x1="254.05" y1="336.70" x2="260.05" y2="336.70" stroke="#333" stroke-width="1.2" />
<rect x="261.30" y="291.50" width="4.50" height="157.70" fill="#0000ff"/>
<line x1="263.55" y1="279.60" x2="263.55" y2="291.50" stroke="#333" stroke-width="1.0" />
<line x1="260.55" y1="279.60" x2="266.55" y2="279.60" stroke="#333" stroke-width="1.2" />
<rect x="267.80" y="340.00" width="4.50" height="109.20" fill="#ff00ff"/>
<line x1="270.05" y1="330.20" x2="270.05" y2="340.00" stroke="#333" stroke-width="1.0" />
<line x1="267.05" y1="330.20" x2="273.05" y2="330.20" stroke="#333" stroke-width="1.2" />
<rect x="291.00" y="418.70" width="4.50" height="30.50" fill="#ff0000"/>
<line x1="293.25" y1="413.10" x2="293.25" y2="418.70" stroke="#333" stroke-width="1.0" />
<line x1="290.25" y1="413.10" x2="296.25" y2="413.10" stroke="#333" stroke-width="1.2" />
<rect x="297.50" y="367.30" width="4.50" height="81.90" fill="#000000"/>
<line x1="299.75" y1="354.50" x2="299.75" y2="367.30" stroke="#333" stroke-width="1.0" />
<line x1="296.75" y1="354.50" x2="302.75" y2="354.50" stroke="#333" stroke-width="1.2" />
<rect x="304.00" y="304.50" width="4.50" height="144.70" fill="#0000ff"/>
<line x1="306.25" y1="298.20" x2="306.25" y2="304.50" stroke="#333" stroke-width="1.0" />
<line x1="303.25" y1="298.20" x2="309.25" y2="298.20" stroke="#333" stroke-width="1.2" />
<rect x="310.50" y="364.20" width="4.50" height="85.00" fill="#ff00ff"/>
<line x1="312.75" y1="354.90" x2="312.75" y2="364.20" stroke="#333" stroke-width="1.0" />
<line x1="309.75" y1="354.90" x2="315.75" y2="354.90" stroke="#333" stroke-width="1.2" />
<rect x="333.60" y="424.20" width="4.50" height="25.00" fill="#ff0000"/>
<line x1="335.85" y1="419.70" x2="335.85" y2="424.20" stroke="#333" stroke-width="1.0" />
<line x1="332.85" y1="419.70" x2="338.85" y2="419.70" stroke="#333" stroke-width="1.2" />
<rect x="340.10" y="372.70" width="4.50" height="76.50" fill="#000000"/>
<line x1="342.35" y1="363.30" x2="342.35" y2="372.70" stroke="#333" stroke-width="1.0" />
<line x1="339.35" y1="363.30" x2="345.35" y2="363.30" stroke="#333" stroke-width="1.2" />
<rect x="346.60" y="314.00" width="4.50" height="135.20" fill="#0000ff"/>
<line x1="348.85" y1="295.10" x2="348.85" y2="314.00" stroke="#333" stroke-width="1.0" />
<line x1="345.85" y1="295.10" x2="351.85" y2="295.10" stroke="#333" stroke-width="1.2" />
<rect x="353.10" y="368.20" width="4.50" height="81.00" fill="#ff00ff"/>
<line x1="355.35" y1="355.20" x2="355.35" y2="368.20" stroke="#333" stroke-width="1.0" />
<line x1="352.35" y1="355.20" x2="358.35" y2="355.20" stroke="#333" stroke-width="1.2" />
<rect x="376.30" y="439.90" width="4.50" height="9.30" fill="#ff0000"/>
<line x1="378.55" y1="434.90" x2="378.55" y2="439.90" stroke="#333" stroke-width="1.0" />
<line x1="375.55" y1="434.90" x2="381.55" y2="434.90" stroke="#333" stroke-width="1.2" />
<rect x="382.80" y="421.80" width="4.50" height="27.40" fill="#000000"/>
<line x1="385.05" y1="416.80" x2="385.05" y2="421.80" stroke="#333" stroke-width="1.0" />
<line x1="382.05" y1="416.80" x2="388.05" y2="416.80" stroke="#333" stroke-width="1.2" />
<rect x="389.30" y="350.10" width="4.50" height="99.10" fill="#0000ff"/>
<line x1="391.55" y1="338.10" x2="391.55" y2="350.10" stroke="#333" stroke-width="1.0" />
<line x1="388.55" y1="338.10" x2="394.55" y2="338.10" stroke="#333" stroke-width="1.2" />
<rect x="395.80" y="417.30" width="4.50" height="31.90" fill="#ff00ff"/>
<line x1="398.05" y1="411.80" x2="398.05" y2="417.30" stroke="#333" stroke-width="1.0" />
<line x1="395.05" y1="411.80" x2="401.05" y2="411.80" stroke="#333" stroke-width="1.2" />
<rect x="419.00" y="440.90" width="4.50" height="8.30" fill="#ff0000"/>
<line x1="421.25" y1="436.10" x2="421.25" y2="440.90" stroke="#333" stroke-width="1.0" />
<line x1="418.25" y1="436.10" x2="424.25" y2="436.10" stroke="#333" stroke-width="1.2" />
<rect x="425.50" y="436.50" width="4.50" height="12.70" fill="#000000"/>
<line x1="427.75" y1="429.00" x2="427.75" y2="436.50" stroke="#333" stroke-width="1.0" />
<line x1="424.75" y1="429.00" x2="430.75" y2="429.00" stroke="#333" stroke-width="1.2" />
<rect x="432.00" y="399.80" width="4.50" height="49.40" fill="#0000ff"/>
<line x1="434.25" y1="393.60" x2="434.25" y2="399.80" stroke="#333" stroke-width="1.0" />
<line x1="431.25" y1="393.60" x2="437.25" y2="393.60" stroke="#333" stroke-width="1.2" />
<rect x="438.50" y="430.50" width="4.50" height="18.70" fill="#ff00ff"/>
<line x1="440.75" y1="426.40" x2="440.75" y2="430.50" stroke="#333" stroke-width="1.0" />
<line x1="437.75" y1="426.40" x2="443.75" y2="426.40" stroke="#333" stroke-width="1.2" />
<rect x="365.80" y="278.90" width="21.60" height="4.00" fill="#ff0000"/>
<text x="393.30" y="284.20" font-size="8.8" stroke="#2b2b2b" stroke-width="0.3" textLength="32.90" lengthAdjust="spacingAndGlyphs" fill="#2b2b2b" >CNF EFB</text>
<rect x="365.80" y="292.00" width="21.60" height="4.00" fill="#000000"/>
<text x="393.30" y="297.30" font-size="8.8" stroke="#2b2b2b" stroke-width="0.3" textLength="20.40" lengthAdjust="spacingAndGlyphs" fill="#2b2b2b" >Fe(0)</text>
<rect x="365.80" y="305.10" width="21.60" height="4.00" fill="#0000ff"/>
<text x="393.30" y="310.40" font-size="8.8" stroke="#2b2b2b" stroke-width="0.3" textLength="40.60" lengthAdjust="spacingAndGlyphs" fill="#2b2b2b" >CNF/Fe(0)</text>
<rect x="365.80" y="318.10" width="21.60" height="4.00" fill="#ff00ff"/>
<text x="393.30" y="323.40" font-size="8.8" stroke="#2b2b2b" stroke-width="0.3" textLength="75.20" lengthAdjust="spacingAndGlyphs" fill="#2b2b2b" >Cellulose GO/Fe(0)</text>
<text x="186.00" y="393.70" font-size="12.2" stroke="#2b2b2b" stroke-width="0.3" textLength="70.00" lengthAdjust="spacingAndGlyphs" fill="#2b2b2b" transform="rotate(-90 186.00 393.70)" >Removal (%)</text>
<text x="284.00" y="493.10" font-size="12.4" stroke="#2b2b2b" stroke-width="0.3" textLength="122.50" lengthAdjust="spacingAndGlyphs" fill="#2b2b2b" >Concentration (mg/L)</text>
</svg>
</body></html>
